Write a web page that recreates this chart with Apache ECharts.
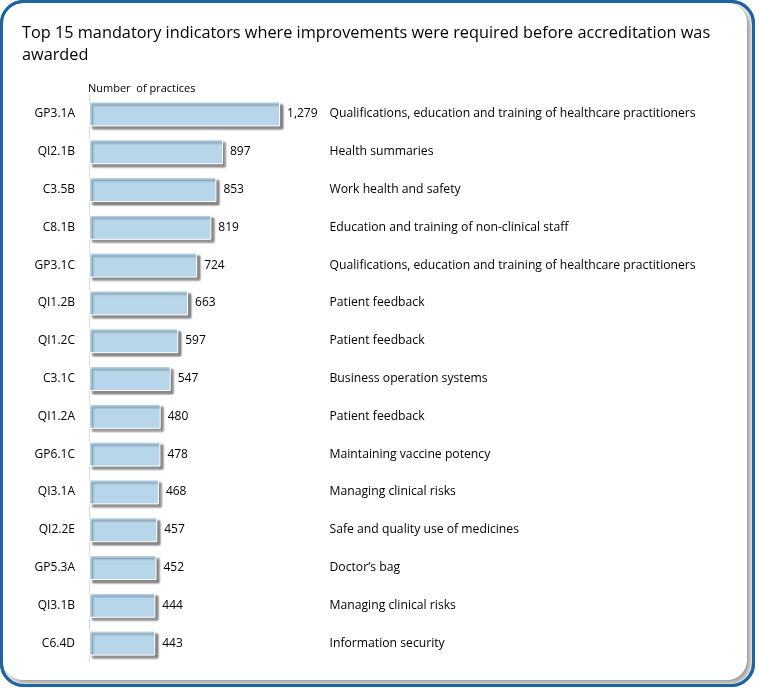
<!DOCTYPE html>
<html>
<head>
<meta charset="utf-8">
<script src="https://cdn.jsdelivr.net/npm/echarts@6/dist/echarts.min.js"></script>
<style>html,body{margin:0;padding:0;background:#fff;}#c{width:759px;height:688px;}</style>
</head>
<body>
<div id="c"></div>
<script>
const codes = ['GP3.1A','QI2.1B','C3.5B','C8.1B','GP3.1C','QI1.2B','QI1.2C','C3.1C','QI1.2A','GP6.1C','QI3.1A','QI2.2E','GP5.3A','QI3.1B','C6.4D'];
const values = [1279,897,853,819,724,663,597,547,480,478,468,457,452,444,443];
const descriptions = ['Qualifications, education and training of healthcare practitioners','Health summaries','Work health and safety','Education and training of non-clinical staff','Qualifications, education and training of healthcare practitioners','Patient feedback','Patient feedback','Business operation systems','Patient feedback','Maintaining vaccine potency','Managing clinical risks','Safe and quality use of medicines','Doctor\u2019s bag','Managing clinical risks','Information security'];
const titleText = 'Top 15 mandatory indicators where improvements were required before accreditation was\nawarded';
const axisTitle = 'Number  of practices';

const font = 'Open Sans, Liberation Sans, sans-serif';
const chart = echarts.init(document.getElementById('c'));
chart.setOption({
  animation: false,
  backgroundColor: '#fff',
  graphic: [
    {type:'rect', z:-10, shape:{x:1.5,y:1.5,width:752,height:684,r:22}, style:{fill:'#fff', stroke:'#1f64a0', lineWidth:3}},
    {type:'rect', z:-9, shape:{x:3,y:3,width:744,height:677,r:20}, style:{fill:'#fff', shadowColor:'rgba(0,0,0,0.45)', shadowBlur:6, shadowOffsetX:3, shadowOffsetY:3}},
    {type:'rect', z:-8, shape:{x:1.5,y:1.5,width:752,height:684,r:22}, style:{fill:'none', stroke:'#1f64a0', lineWidth:3}}
  ],
  title: [
    {text: titleText, left: 17, top: 17, textStyle:{fontFamily:font, fontSize:16.3, fontWeight:'normal', color:'#000', lineHeight:22}},
    {text: axisTitle, left: 83, top: 78, textStyle:{fontFamily:font, fontSize:11, fontWeight:'normal', color:'#000'}}
  ],
  grid: {left: 89, top: 95, width: 231.5, height: 567, containLabel:false},
  xAxis: {type:'value', min:0, max:1550, show:false},
  yAxis: [
    {type:'category', data: codes, inverse:true, axisTick:{show:false},
     axisLine:{show:true, lineStyle:{color:'#d9d9d9', width:1}},
     axisLabel:{margin:14, fontFamily:font, fontSize:12, color:'#000'}},
    {type:'category', data: descriptions, inverse:true, position:'right', axisTick:{show:false}, axisLine:{show:false},
     axisLabel:{margin:9, align:'left', fontFamily:font, fontSize:12.2, color:'#000'}}
  ],
  series: [{
    type:'bar', data: values, barWidth: 25,
    itemStyle:{color:'#b7d6ea', borderColor:'#fff', borderWidth:1, shadowColor:'rgba(0,0,0,0.45)', shadowBlur:2, shadowOffsetX:3, shadowOffsetY:3},
    label:{show:true, position:'right', distance:7, fontFamily:font, fontSize:12, color:'#000',
      formatter: p => p.value.toLocaleString('en-US')}
  }]
});
</script>
</body>
</html>
